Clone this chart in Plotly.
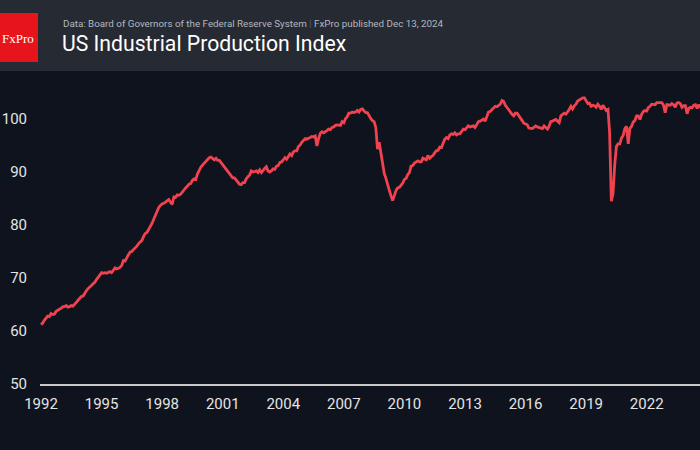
import pandas as pd
import plotly.graph_objects as go

# Monthly US Industrial Production Index (2017=100), Jan 1992 .. Nov 2024
values_by_year = {
    1992: [61.2, 61.5, 62.0, 62.4, 62.8, 62.7, 63.3, 63.1, 63.2, 63.7, 63.9, 64.0],
    1993: [64.3, 64.6, 64.6, 64.8, 64.5, 64.6, 64.8, 64.7, 65.0, 65.4, 65.8, 66.2],
    1994: [66.5, 66.6, 67.2, 67.6, 68.0, 68.4, 68.6, 68.9, 69.2, 69.7, 70.1, 70.7],
    1995: [71.0, 70.9, 71.0, 70.9, 71.0, 71.2, 71.0, 71.6, 71.9, 71.7, 71.8, 72.0],
    1996: [72.4, 73.3, 73.2, 73.9, 74.4, 74.9, 75.0, 75.4, 75.7, 76.0, 76.5, 76.8],
    1997: [77.1, 77.9, 78.4, 78.6, 79.1, 79.6, 80.3, 81.1, 81.9, 82.7, 83.3, 83.7],
    1998: [84.0, 84.1, 84.3, 84.5, 84.8, 84.3, 83.9, 85.3, 85.2, 85.7, 85.6, 85.8],
    1999: [86.3, 86.7, 87.0, 87.3, 87.7, 87.8, 88.4, 88.7, 88.6, 89.6, 90.3, 90.9],
    2000: [91.3, 91.7, 92.0, 92.5, 92.7, 92.8, 92.5, 92.3, 92.6, 92.2, 92.2, 91.8],
    2001: [91.3, 90.8, 90.6, 90.2, 89.7, 89.3, 88.9, 88.9, 88.5, 88.0, 87.7, 87.6],
    2002: [88.0, 88.0, 88.7, 89.1, 89.4, 90.2, 90.0, 90.1, 90.2, 89.9, 90.4, 89.9],
    2003: [90.4, 90.7, 91.0, 90.2, 90.0, 90.2, 90.6, 90.5, 91.1, 91.2, 91.8, 91.9],
    2004: [92.3, 92.7, 92.4, 92.8, 93.4, 93.1, 93.8, 94.0, 94.0, 94.8, 95.1, 95.6],
    2005: [95.9, 96.3, 96.2, 96.3, 96.5, 96.7, 96.6, 96.8, 94.9, 96.3, 97.3, 97.6],
    2006: [97.4, 97.6, 97.8, 98.1, 98.0, 98.4, 98.5, 98.8, 98.9, 98.9, 98.8, 99.5],
    2007: [99.3, 100.1, 100.4, 101.1, 101.1, 101.3, 101.2, 101.3, 101.6, 101.3, 101.8, 101.9],
    2008: [101.6, 101.2, 101.2, 100.5, 100.1, 99.7, 99.5, 98.4, 94.3, 95.6, 93.6, 91.5],
    2009: [89.7, 88.8, 87.5, 86.6, 85.6, 84.6, 85.5, 86.5, 87.0, 87.1, 87.5, 87.9],
    2010: [88.6, 88.8, 89.5, 89.9, 91.1, 91.2, 91.7, 91.9, 92.1, 91.9, 91.9, 92.6],
    2011: [92.5, 92.3, 93.1, 92.6, 92.9, 93.1, 93.6, 94.0, 94.1, 94.7, 94.6, 95.3],
    2012: [96.2, 96.5, 96.3, 97.0, 97.2, 97.1, 97.4, 97.0, 97.2, 97.2, 97.7, 98.1],
    2013: [98.0, 98.4, 98.7, 98.5, 98.6, 98.7, 98.4, 99.0, 99.5, 99.6, 99.8, 100.0],
    2014: [99.6, 100.6, 101.3, 101.4, 101.8, 102.2, 102.4, 102.3, 102.6, 102.8, 103.5, 103.3],
    2015: [102.6, 102.1, 101.7, 101.3, 100.9, 100.6, 101.1, 101.1, 100.7, 100.3, 99.7, 99.2],
    2016: [99.1, 98.9, 98.3, 98.3, 98.2, 98.4, 98.7, 98.5, 98.4, 98.2, 98.2, 98.7],
    2017: [98.3, 98.1, 98.6, 99.5, 99.6, 99.8, 99.9, 99.6, 99.3, 100.6, 100.9, 101.1],
    2018: [100.9, 101.3, 101.8, 102.4, 101.9, 102.5, 102.8, 103.4, 103.6, 103.7, 104.0, 104.0],
    2019: [103.4, 102.9, 103.0, 102.4, 102.6, 102.5, 102.2, 102.8, 102.4, 101.8, 102.6, 102.2],
    2020: [101.6, 101.8, 97.4, 84.5, 85.9, 91.3, 94.8, 95.3, 95.3, 96.4, 96.9, 98.2],
    2021: [98.6, 95.3, 98.2, 98.6, 99.4, 99.7, 100.6, 100.6, 99.9, 100.9, 101.4, 101.6],
    2022: [101.5, 102.2, 102.4, 102.8, 102.8, 102.7, 103.1, 103.1, 103.2, 103.1, 102.6, 101.2],
    2023: [102.7, 102.6, 102.6, 102.9, 102.7, 102.2, 103.0, 103.1, 102.9, 102.2, 102.5, 102.5],
    2024: [101.0, 102.0, 102.2, 102.1, 102.6, 102.7, 102.0, 102.7, 102.2, 101.8, 101.8],
}

index_values = [v for yr in sorted(values_by_year) for v in values_by_year[yr]]
dates = pd.date_range("1992-01-01", periods=len(index_values), freq="MS")

y_ticks = [50, 60, 70, 80, 90, 100]
x_tick_years = [1992, 1995, 1998, 2001, 2004, 2007, 2010, 2013, 2016, 2019, 2022]

title_text = "US Industrial Production Index"
subtitle_text = ("Data: Board of Governors of the Federal Reserve System "
                 "<span style='color:#5a5f6a'>|</span> FxPro published Dec 13, 2024")

BG = "#0e131e"
HEADER = "#262a33"
LINE = "#f0434f"
FONT = "Roboto"

fig = go.Figure()
fig.add_trace(go.Scatter(
    x=dates, y=index_values, mode="lines",
    line=dict(color=LINE, width=2.8),
    hoverinfo="x+y", showlegend=False,
))

# pixel helpers for paper coordinates (plot area: x 40..700, y 80..384)
L, R, T, B = 40, 700, 80, 384
def px(p):
    return (p - L) / (R - L)
def py(p):
    return (B - p) / (B - T)

fig.update_layout(
    width=700, height=450,
    margin=dict(l=L, r=700 - R, t=T, b=450 - B),
    paper_bgcolor=BG, plot_bgcolor=BG,
    font=dict(family=FONT, color="#e4e4e4", size=15),
    shapes=[
        dict(type="rect", xref="paper", yref="paper",
             x0=px(0), x1=px(700), y0=py(71), y1=py(0),
             fillcolor=HEADER, line=dict(width=0), layer="below"),
        dict(type="rect", xref="paper", yref="paper",
             x0=px(0), x1=px(38), y0=py(62), y1=py(13),
             fillcolor="#e8141c", line=dict(width=0), layer="above"),
    ],
    annotations=[
        dict(text="FxPro", xref="paper", yref="paper", x=px(0), y=py(38),
             xanchor="left", yanchor="middle", showarrow=False,
             font=dict(family="Liberation Serif", size=13, color="white")),
        dict(text=subtitle_text, xref="paper", yref="paper", x=px(61), y=py(23),
             xanchor="left", yanchor="middle", showarrow=False,
             font=dict(family=FONT, size=9.8, color="#b4b8c0")),
        dict(text=title_text, xref="paper", yref="paper", x=px(60), y=py(44),
             xanchor="left", yanchor="middle", showarrow=False,
             font=dict(family=FONT, size=21.2, color="white")),
    ],
    xaxis=dict(
        type="date", automargin=False,
        range=["1991-12-14", "2024-08-22"],
        tickvals=[f"{y}-01-01" for y in x_tick_years],
        ticktext=[str(y) for y in x_tick_years],
        showgrid=False, zeroline=False,
        showline=True, linecolor="#c9c9c9", linewidth=1.5,
        ticks="", ticklabelstandoff=5,
        tickfont=dict(family=FONT, size=15, color="#e4e4e4"),
    ),
    yaxis=dict(
        automargin=False,
        range=[50, 50 + (B - T) / 5.3],
        tickvals=y_ticks,
        showgrid=False, zeroline=False, showline=False,
        ticks="", ticklabelstandoff=12,
        tickfont=dict(family=FONT, size=15, color="#e4e4e4"),
    ),
)

fig.write_html(
    "out.html",
    config={"displayModeBar": False},
    post_script="document.body.style.margin='0';document.body.style.background='#0e131e';",
)
